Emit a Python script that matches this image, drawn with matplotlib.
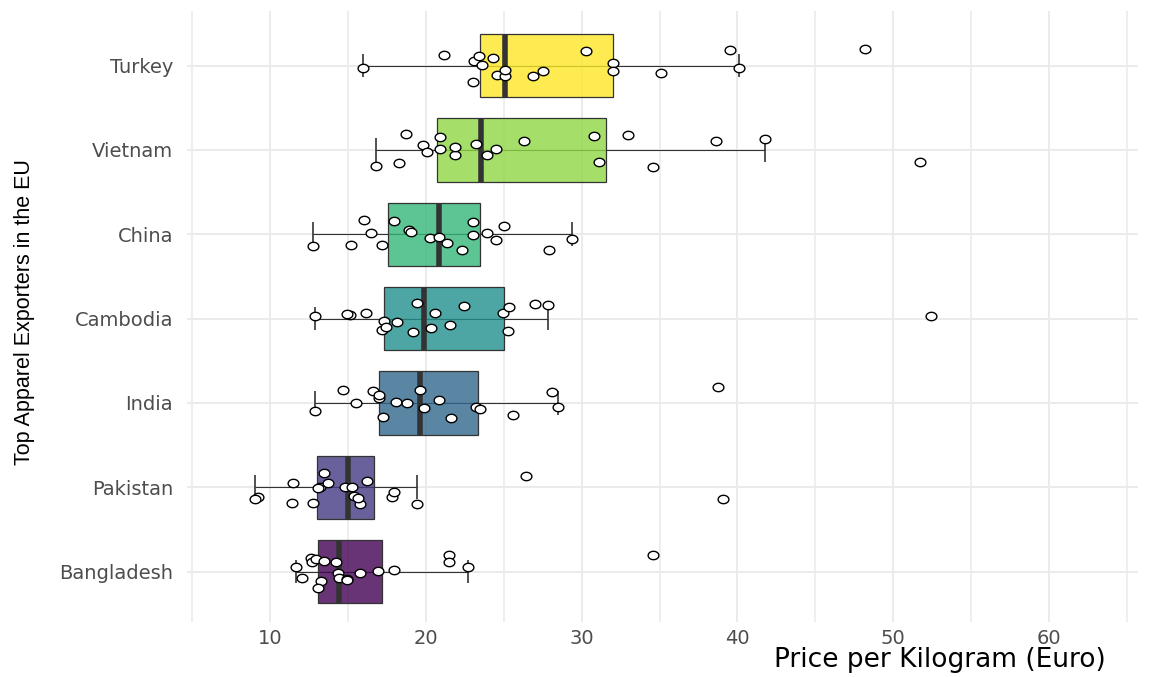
import numpy as np
import matplotlib
matplotlib.use("Agg")
import matplotlib.pyplot as plt
from matplotlib.cbook import boxplot_stats
from matplotlib.path import Path

plt.rcParams['font.family'] = ['DejaVu Sans']

# countries, bottom to top
countries = ['Bangladesh', 'Pakistan', 'India', 'Cambodia', 'China', 'Vietnam', 'Turkey']

# price per kilogram (Euro), read from the points
bangladesh = [11.65, 12.63, 12.72, 13.28, 12.03, 12.96, 13.1, 13.47, 14.22, 14.35,
              14.45, 14.95, 14.97, 15.8, 16.9, 17.99, 21.48, 21.48, 22.7, 34.6]
pakistan = [9.24, 9.02, 11.45, 11.4, 12.79, 13.19, 13.11, 13.48, 13.75, 14.8,
            15.25, 15.42, 15.78, 15.64, 16.25, 17.84, 17.97, 19.44, 26.4, 39.1]
india = [12.89, 14.68, 15.51, 16.62, 17.01, 16.99, 17.25, 18.09, 18.82, 19.63,
         19.9, 20.86, 21.59, 23.2, 23.5, 25.59, 28.11, 28.46, 38.73]
cambodia = [12.88, 15.16, 14.93, 16.14, 17.19, 17.32, 17.45, 18.17, 19.15, 19.41,
            20.36, 20.62, 21.57, 22.42, 24.97, 25.29, 25.33, 26.99, 27.84, 52.4]
china = [12.74, 15.18, 16.04, 16.47, 17.2, 17.95, 18.93, 19.06, 20.28, 20.85,
         21.35, 22.31, 23.02, 23.0, 23.9, 24.52, 25.01, 27.9, 29.38]
vietnam = [16.8, 18.25, 18.7, 19.8, 20.05, 20.9, 20.9, 21.9, 21.9, 23.2,
           23.9, 24.5, 26.3, 30.8, 31.1, 33.0, 34.6, 38.6, 41.75, 51.7]
turkey = [16.0, 21.2, 23.0, 23.1, 23.4, 23.6, 24.3, 24.6, 25.1, 25.1,
          26.9, 27.5, 30.3, 32.0, 32.0, 35.1, 39.5, 40.1, 48.2]

data = [bangladesh, pakistan, india, cambodia, china, vietnam, turkey]
colors = ['#440154', '#443A83', '#31688E', '#21908C', '#35B779', '#8FD744', '#FDE725']

# the reference is stretched sideways, so the points are flat ellipses
t = np.linspace(0, 2 * np.pi, 40)
ellipse = Path(np.column_stack([np.cos(t), 0.78 * np.sin(t)]), closed=True)

fig = plt.figure(figsize=(11.54, 6.77), dpi=100)
ax = fig.add_axes([0.162, 0.081, 0.824, 0.903])

pos = np.arange(1, len(countries) + 1)
stats = [boxplot_stats(d, whis=1.5)[0] for d in data]

# errorbar-style whiskers, drawn under the boxes
for p, s in zip(pos, stats):
    ax.hlines(p, s['whislo'], s['whishi'], color='#333333', lw=0.8, zorder=2)
    ax.vlines([s['whislo'], s['whishi']], p - 0.14, p + 0.14, color='#333333', lw=1.2, zorder=2)

bp = ax.bxp(stats, positions=pos, widths=0.75, orientation='horizontal',
            patch_artist=True, showfliers=False, showcaps=False,
            whiskerprops=dict(linewidth=0),
            medianprops=dict(color='#333333', linewidth=4),
            boxprops=dict(edgecolor='#333333', linewidth=0.9), zorder=3)
for patch, c in zip(bp['boxes'], colors):
    patch.set_facecolor(matplotlib.colors.to_rgba(c, 0.8))

rng = np.random.default_rng(7)
for p, d in zip(pos, data):
    yj = p + rng.uniform(-0.2, 0.2, len(d))
    ax.scatter(d, yj, s=60, marker=ellipse, facecolor='white', edgecolor='black',
               linewidth=1.0, zorder=5)

ax.set_xlim(4.67, 65.7)
ax.set_ylim(0.4, 7.65)
ax.set_yticks(pos)
ax.set_yticklabels(countries)
ax.set_xticks([10, 20, 30, 40, 50, 60])
ax.set_xticks([5, 15, 25, 35, 45, 55, 65], minor=True)
ax.grid(True, which='major', color='#EBEBEB', linewidth=1.4)
ax.grid(True, which='minor', axis='x', color='#EBEBEB', linewidth=1.2)
ax.set_axisbelow(True)
for sp in ax.spines.values():
    sp.set_visible(False)
ax.tick_params(axis='both', which='both', length=0, labelsize=14, labelcolor='#4D4D4D')
ax.tick_params(axis='y', pad=10)
ax.tick_params(axis='x', pad=5)

ax.set_xlabel('Price per Kilogram (Euro)', fontsize=19, color='black', loc='right')
ax.xaxis.set_label_coords(0.966, -0.041)
ax.set_ylabel('Top Apparel Exporters in the EU', fontsize=15.5, color='black',
              family='Liberation Sans')
ax.yaxis.set_label_coords(-0.16, 0.507)

fig.savefig('out.png', dpi=100)
